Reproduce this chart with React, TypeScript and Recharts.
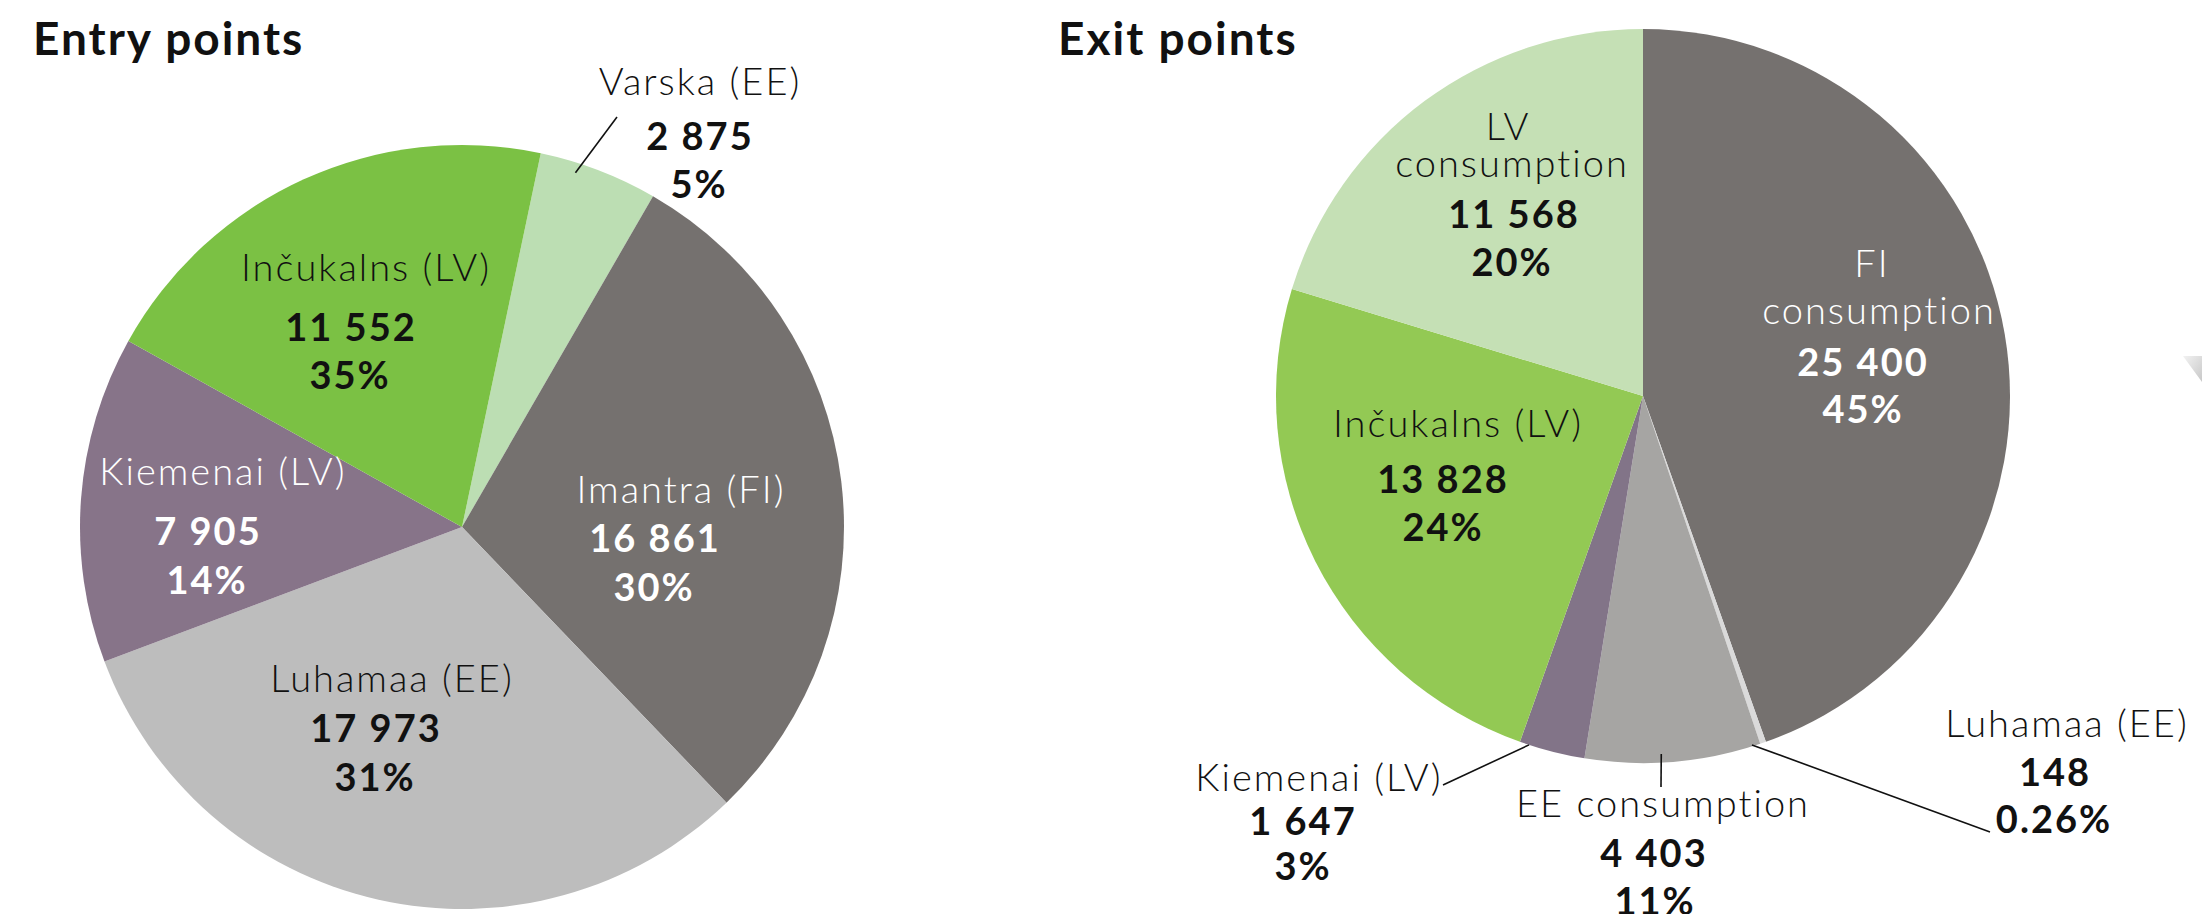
import React from 'react';
import { PieChart, Pie, Cell } from 'recharts';

// ---------- data ----------
const chartTitles = ['Entry points', 'Exit points'];

const entryNames = ['Varska (EE)', 'Imantra (FI)', 'Luhamaa (EE)', 'Kiemenai (LV)', 'Inčukalns (LV)'];
const entryValues = [2875, 16861, 17973, 7905, 11552];
const entryShares = ['5%', '30%', '31%', '14%', '35%'];

const exitNames = ['FI\nconsumption', 'Luhamaa (EE)', 'EE consumption', 'Kiemenai (LV)', 'Inčukalns (LV)', 'LV\nconsumption'];
const exitValues = [25400, 148, 4403, 1647, 13828, 11568];
const exitShares = ['45%', '0.26%', '11%', '3%', '24%', '20%'];

// ---------- styles ----------
const entryColors = ['#BCDEB3', '#75716F', '#BDBDBD', '#877489', '#7BC144'];
const entryTextColors = ['#111', '#fff', '#111', '#fff', '#111'];
const exitColors = ['#75716F', '#DADADA', '#A6A5A3', '#827488', '#93C954', '#C5E0B5'];
const exitTextColors = ['#fff', '#111', '#111', '#111', '#111', '#111'];

const FONT = 'Lato, "Noto Sans", sans-serif';

type Leader = { adj: number; r: number; end: [number, number] };
type LabelLayout = { name: [number, number][]; value: [number, number]; share: [number, number]; leader?: Leader };

// label offsets relative to the pie centre (text baselines)
const entryLayout: LabelLayout[] = [
  { name: [[238, -432]], value: [238, -377], share: [237, -329], leader: { adj: 3.2, r: 0.974, end: [155, -410] } },
  { name: [[219, -24]], value: [193, 25], share: [192, 74] },
  { name: [[-70, 165]], value: [-86, 215], share: [-87, 264] },
  { name: [[-239, -42]], value: [-254, 18], share: [-255, 67] },
  { name: [[-96, -246]], value: [-111, -186], share: [-112, -138] },
];

const exitLayout: LabelLayout[] = [
  { name: [[229, -119], [236, -72]], value: [220, -20], share: [220, 27] },
  { name: [[424, 341]], value: [412, 390], share: [411, 437], leader: { adj: -1.75, r: 0.996, end: [347, 436] } },
  { name: [[20, 421]], value: [11, 471], share: [12, 519], leader: { adj: -1.8, r: 0.977, end: [18, 391] } },
  { name: [[-324, 395]], value: [-340, 439], share: [-340, 484], leader: { adj: -3.7, r: 1.0, end: [-200, 389] } },
  { name: [[-185, 41]], value: [-200, 97], share: [-200, 145] },
  { name: [[-135, -256], [-131, -219]], value: [-129, -168], share: [-131, -120] },
];

const entryData = entryNames.map((name, i) => ({ name, value: entryValues[i], share: entryShares[i] }));
const exitData = exitNames.map((name, i) => ({ name, value: exitValues[i], share: exitShares[i] }));

const fmt = (v: number) => String(v).replace(/\B(?=(\d{3})+(?!\d))/g, ' ');

const RAD = Math.PI / 180;

function makeLabel(layout: LabelLayout[], textColors: string[]) {
  return (props: any) => {
    const { cx, cy, midAngle, outerRadius, index, payload } = props;
    const L = layout[index];
    const color = textColors[index];
    const p = payload && payload.name !== undefined ? payload : props;
    const lines = String(p.name).split('\n');
    let leader: React.ReactNode = null;
    if (L.leader) {
      const a = (midAngle + L.leader.adj) * RAD;
      const r = outerRadius * L.leader.r;
      leader = (
        <line
          x1={cx + r * Math.cos(a)}
          y1={cy - r * Math.sin(a)}
          x2={cx + L.leader.end[0]}
          y2={cy + L.leader.end[1]}
          stroke="#111"
          strokeWidth={1.6}
        />
      );
    }
    return (
      <g>
        {leader}
        {lines.map((t, i) => (
          <text
            key={i}
            x={cx + L.name[i][0]}
            y={cy + L.name[i][1]}
            textAnchor="middle"
            fill={color}
            fontFamily={FONT}
            fontSize={38}
            fontWeight={300}
            letterSpacing={2}
          >
            {t}
          </text>
        ))}
        <text x={cx + L.value[0]} y={cy + L.value[1]} textAnchor="middle" fill={color} fontFamily={FONT} fontSize={38} fontWeight={700} letterSpacing={2}>
          {fmt(p.value)}
        </text>
        <text x={cx + L.share[0]} y={cy + L.share[1]} textAnchor="middle" fill={color} fontFamily={FONT} fontSize={38} fontWeight={700} letterSpacing={2}>
          {p.share}
        </text>
      </g>
    );
  };
}

export default function App() {
  return (
    <div style={{ position: 'absolute', left: 0, top: 0, width: 2202, height: 914, background: '#fff', overflow: 'hidden' }}>
      <PieChart width={2202} height={914} margin={{ top: 0, right: 0, bottom: 0, left: 0 }}>
        <Pie
          data={entryData}
          dataKey="value"
          nameKey="name"
          cx={462}
          cy={527}
          outerRadius={382}
          startAngle={78.1}
          endAngle={-281.9}
          stroke="none"
          isAnimationActive={false}
          labelLine={false}
          label={makeLabel(entryLayout, entryTextColors)}
        >
          {entryData.map((d, i) => (
            <Cell key={d.name} fill={entryColors[i]} stroke="none" />
          ))}
        </Pie>
        <Pie
          data={exitData}
          dataKey="value"
          nameKey="name"
          cx={1643}
          cy={396}
          outerRadius={367}
          startAngle={90}
          endAngle={-270}
          stroke="none"
          isAnimationActive={false}
          labelLine={false}
          label={makeLabel(exitLayout, exitTextColors)}
        >
          {exitData.map((d, i) => (
            <Cell key={d.name} fill={exitColors[i]} stroke="none" />
          ))}
        </Pie>
      </PieChart>
      <svg width={2202} height={914} style={{ position: 'absolute', left: 0, top: 0, pointerEvents: 'none' }}>
        <defs>
          <linearGradient id="artifact" x1="0" y1="0" x2="1" y2="1">
            <stop offset="0%" stopColor="#F2F2F2" />
            <stop offset="100%" stopColor="#C8C8C8" />
          </linearGradient>
        </defs>
        <text x={33} y={55} fontFamily={FONT} fontSize={46} fontWeight={700} fill="#111" letterSpacing={2}>
          {chartTitles[0]}
        </text>
        <text x={1058} y={55} fontFamily={FONT} fontSize={46} fontWeight={700} fill="#111" letterSpacing={2}>
          {chartTitles[1]}
        </text>
        <polygon points="2183,356 2202,356 2202,382" fill="url(#artifact)" />
      </svg>
    </div>
  );
}
